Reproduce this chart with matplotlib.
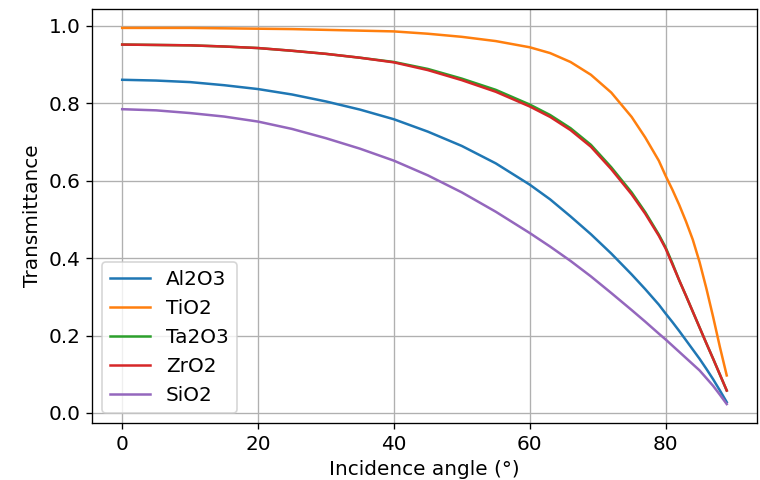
import numpy as np
import matplotlib
matplotlib.use('Agg')
import matplotlib.pyplot as plt

# values
angles = [0, 5, 10, 15, 20, 25, 30, 35, 40, 45, 50, 55, 60, 63, 66, 69, 72, 75, 77, 79, 80, 81, 82, 83, 84, 85, 86, 87, 88, 89]

al2o3 = [0.861, 0.859, 0.855, 0.847, 0.837, 0.823, 0.805, 0.784, 0.759, 0.727, 0.690, 0.645, 0.590, 0.552, 0.508, 0.462,
         0.412, 0.358, 0.320, 0.280, 0.257, 0.235, 0.212, 0.188, 0.164, 0.140, 0.114, 0.087, 0.058, 0.028]
tio2 = [0.995, 0.995, 0.995, 0.994, 0.993, 0.992, 0.990, 0.988, 0.986, 0.980, 0.972, 0.961, 0.945, 0.930, 0.907, 0.874,
        0.828, 0.765, 0.712, 0.652, 0.613, 0.577, 0.538, 0.495, 0.448, 0.390, 0.322, 0.248, 0.170, 0.097]
ta2o3 = [0.952, 0.951, 0.950, 0.947, 0.943, 0.936, 0.928, 0.918, 0.907, 0.889, 0.864, 0.835, 0.797, 0.770, 0.736, 0.693,
         0.635, 0.570, 0.519, 0.461, 0.428, 0.387, 0.343, 0.303, 0.262, 0.221, 0.180, 0.140, 0.099, 0.058]
zro2 = [0.952, 0.951, 0.950, 0.947, 0.943, 0.936, 0.928, 0.918, 0.906, 0.886, 0.860, 0.830, 0.792, 0.765, 0.731, 0.688,
        0.630, 0.565, 0.515, 0.458, 0.425, 0.384, 0.343, 0.303, 0.262, 0.221, 0.180, 0.140, 0.099, 0.058]
sio2 = [0.785, 0.782, 0.775, 0.766, 0.753, 0.734, 0.710, 0.683, 0.652, 0.614, 0.570, 0.520, 0.465, 0.430, 0.393, 0.353,
        0.310, 0.266, 0.236, 0.205, 0.190, 0.174, 0.158, 0.142, 0.126, 0.110, 0.090, 0.070, 0.047, 0.023]

names = ['Al2O3', 'TiO2', 'Ta2O3', 'ZrO2', 'SiO2']
series = [al2o3, tio2, ta2o3, zro2, sio2]

plt.rcParams['font.size'] = 12

fig = plt.figure(figsize=(760 / 120, 4.0), dpi=120)
ax = fig.add_axes([0.121, 0.119, 0.875, 0.862])
for name, vals in zip(names, series):
    ax.plot(angles, vals, label=name)
ax.set_xlabel('Incidence angle (°)')
ax.set_ylabel('Transmittance')
ax.grid(True)
ax.legend(loc='lower left')
fig.savefig('out.png', dpi=120)
